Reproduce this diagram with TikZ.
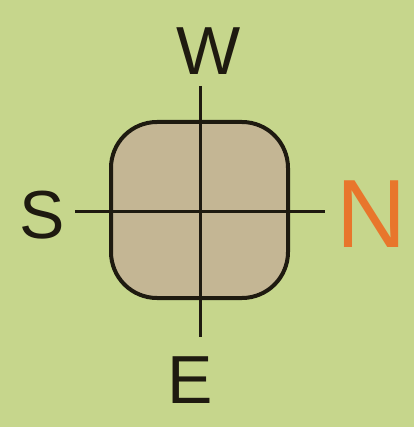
\documentclass[tikz,border=0pt]{standalone}
\usepackage{fontspec}
\setmainfont{Liberation Sans}
\definecolor{bg}{RGB}{198,214,140}
\definecolor{boxfill}{RGB}{196,182,148}
\definecolor{ink}{RGB}{30,26,16}
\definecolor{north}{RGB}{232,118,44}
\tikzset{
  dirlabel/.style={inner sep=0pt, text=ink, font=\fontsize{68}{68}\selectfont},
  axis/.style={draw=ink, line width=3pt},
}
\begin{document}
\begin{tikzpicture}[x=1pt,y=-1pt]
\fill[bg] (0,0) rectangle (414,427);
\useasboundingbox (0,0) rectangle (414,427);
\node[draw=ink, line width=4pt, fill=boxfill, rounded corners=46pt, minimum width=177pt, minimum height=176pt, inner sep=0pt] (box) at (199.5,210) {};
\coordinate (top) at (200,86);
\coordinate (bottom) at (200,337);
\coordinate (left) at (75,211);
\coordinate (right) at (325,211);
\draw[axis] (top) -- (bottom);
\draw[axis] (left) -- (right);
\node[dirlabel, anchor=south] (W) at (208.5,75) {W};
\node[dirlabel, anchor=base] (S) at (42.5,238) {S};
\node[dirlabel, anchor=base] (E) at (190,403) {E};
\node[inner sep=0pt, anchor=base, text=north, font=\fontsize{97}{97}\selectfont] (N) at (371.5,247) {N};
\end{tikzpicture}
\end{document}
